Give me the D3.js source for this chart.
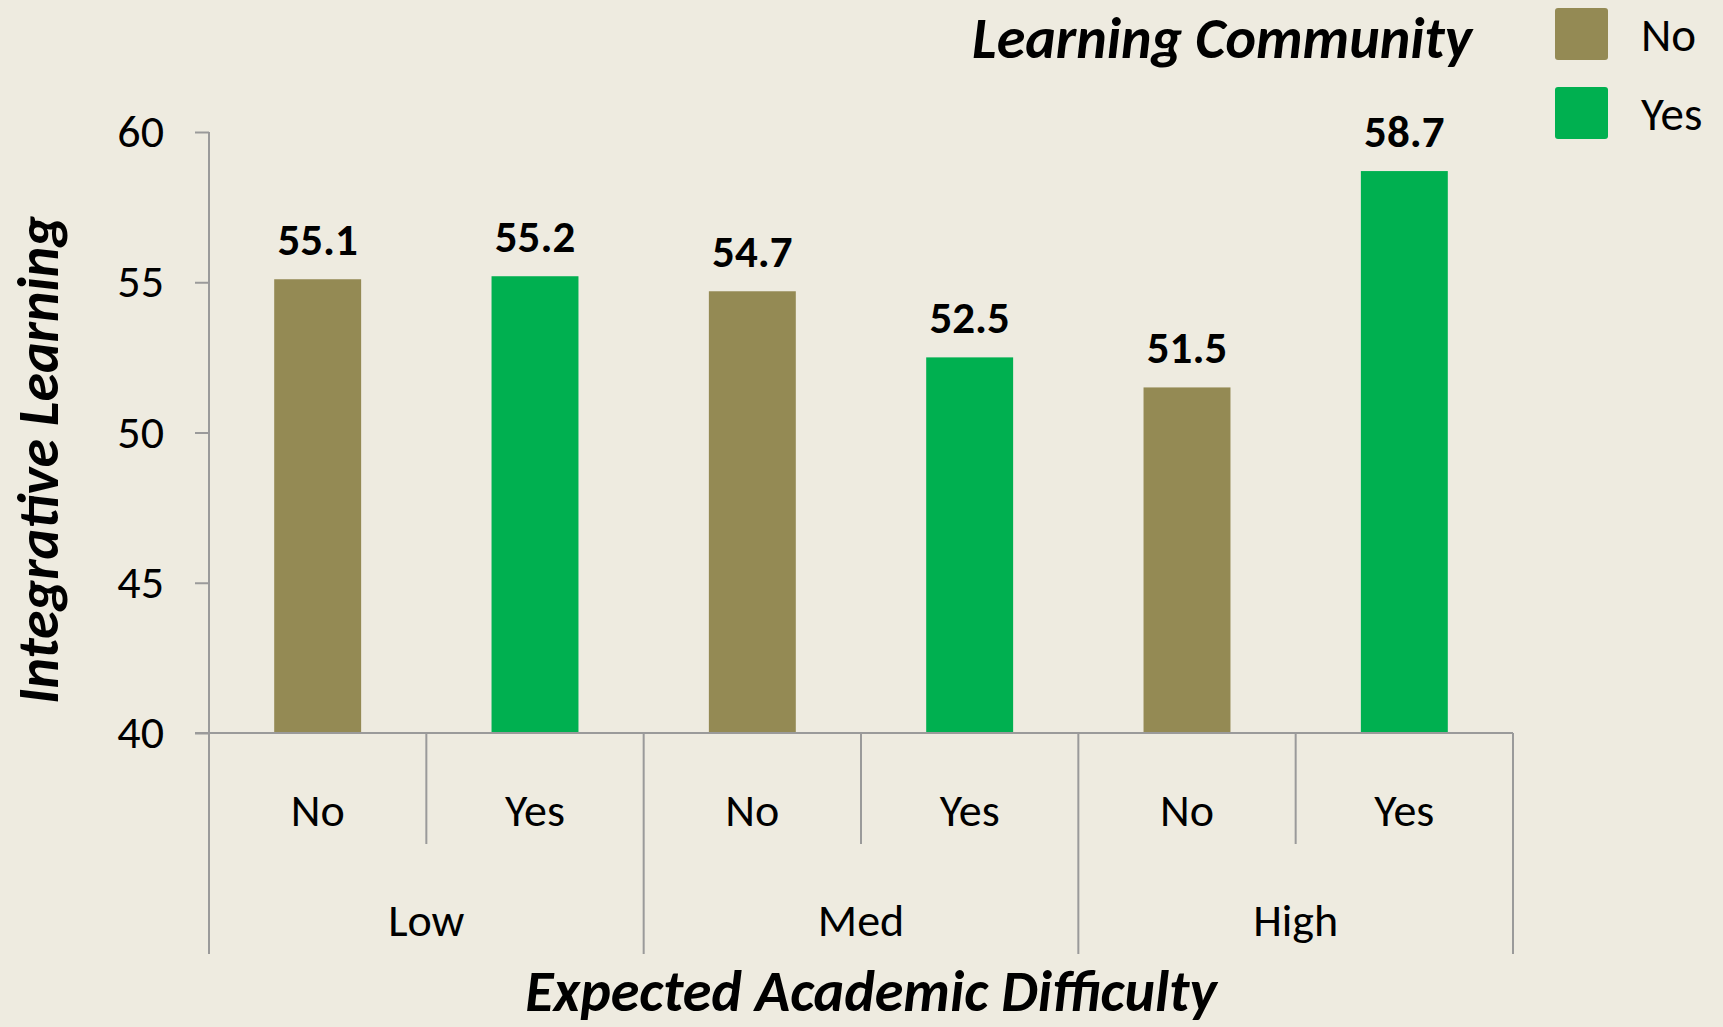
<!DOCTYPE html>
<html>
<head>
<meta charset="utf-8">
<script src="https://cdn.jsdelivr.net/npm/d3@7"></script>
<style>
  body { margin: 0; background: #EEEBE0; }
  svg { display: block; font-family: Carlito, Lato, "Open Sans", sans-serif; }
</style>
</head>
<body>
<div id="chart"></div>
<script>
// data
const groups = ["Low", "Med", "High"];
const community = ["No", "Yes"];
const noValues = [55.1, 54.7, 51.5];
const yesValues = [55.2, 52.5, 58.7];
const yTicks = [40, 45, 50, 55, 60];

const W = 1723, H = 1027;
const plotLeft = 209, plotRight = 1513, plotTop = 132, plotBottom = 733;

const colour = d3.scaleOrdinal()
    .domain(community)
    .range(["#948A54", "#00B050"]);

const svg = d3.select("#chart").append("svg")
    .attr("width", W)
    .attr("height", H);

svg.append("rect").attr("width", W).attr("height", H).attr("fill", "#EEEBE0");

// scales
const x0 = d3.scaleBand().domain(groups).range([plotLeft, plotRight]);
const x1 = d3.scaleBand().domain(community).range([0, x0.bandwidth()])
    .paddingInner(0.6).paddingOuter(0.3);
const y = d3.scaleLinear().domain([40, 60]).range([plotBottom, plotTop]);

const rows = [];
groups.forEach(function(g, i) {
    rows.push({group: g, lc: "No", value: noValues[i]});
    rows.push({group: g, lc: "Yes", value: yesValues[i]});
});

const axisColour = "#9A9A9A";

// y axis
const yAxis = svg.append("g")
    .attr("transform", "translate(" + plotLeft + ",0)")
    .call(d3.axisLeft(y).tickValues(yTicks).tickSize(14).tickPadding(31));
yAxis.attr("font-family", null).attr("font-size", null);
yAxis.select(".domain").attr("stroke", axisColour).attr("stroke-width", 2)
    .attr("d", "M0," + plotTop + "V" + plotBottom);
yAxis.selectAll(".tick line").attr("stroke", axisColour).attr("stroke-width", 2);
yAxis.selectAll(".tick text")
    .attr("fill", "#000")
    .style("font-size", "46px");

// bars
svg.selectAll(".bar")
    .data(rows)
    .enter().append("rect")
    .attr("class", "bar")
    .attr("x", function(d) { return x0(d.group) + x1(d.lc); })
    .attr("width", x1.bandwidth())
    .attr("y", function(d) { return y(d.value); })
    .attr("height", function(d) { return plotBottom - y(d.value); })
    .attr("fill", function(d) { return colour(d.lc); });

// value labels
svg.selectAll(".val")
    .data(rows)
    .enter().append("text")
    .attr("class", "val")
    .attr("x", function(d) { return x0(d.group) + x1(d.lc) + x1.bandwidth() / 2; })
    .attr("y", function(d) { return y(d.value) - 24; })
    .attr("text-anchor", "middle")
    .style("font-size", "45px")
    .style("font-weight", "bold")
    .text(function(d) { return d.value.toFixed(1); });

// x axis line
svg.append("line")
    .attr("x1", plotLeft - 14).attr("x2", plotRight)
    .attr("y1", plotBottom).attr("y2", plotBottom)
    .attr("stroke", axisColour).attr("stroke-width", 2);

// multi-level category axis
const subTickBottom = 844, groupTickBottom = 954;
const step = x0.bandwidth() / 2;

// sub dividers (inside each group)
svg.selectAll(".subdiv")
    .data(groups)
    .enter().append("line")
    .attr("x1", function(d) { return x0(d) + step; })
    .attr("x2", function(d) { return x0(d) + step; })
    .attr("y1", plotBottom).attr("y2", subTickBottom)
    .attr("stroke", axisColour).attr("stroke-width", 2);

// group dividers
const edges = groups.map(function(g) { return x0(g); }).concat([plotRight]);
svg.selectAll(".gdiv")
    .data(edges)
    .enter().append("line")
    .attr("x1", function(d) { return d; })
    .attr("x2", function(d) { return d; })
    .attr("y1", plotBottom).attr("y2", groupTickBottom)
    .attr("stroke", axisColour).attr("stroke-width", 2);

svg.selectAll(".sublab")
    .data(rows)
    .enter().append("text")
    .attr("x", function(d) { return x0(d.group) + x1(d.lc) + x1.bandwidth() / 2; })
    .attr("y", 826)
    .attr("text-anchor", "middle")
    .style("font-size", "46px")
    .text(function(d) { return d.lc; });

svg.selectAll(".glab")
    .data(groups)
    .enter().append("text")
    .attr("x", function(d) { return x0(d) + x0.bandwidth() / 2; })
    .attr("y", 936)
    .attr("text-anchor", "middle")
    .style("font-size", "46px")
    .text(function(d) { return d; });

// axis titles
svg.append("text")
    .attr("x", 871).attr("y", 1011)
    .attr("text-anchor", "middle")
    .style("font-size", "58px")
    .style("font-weight", "bold")
    .style("font-style", "italic")
    .text("Expected Academic Difficulty");

svg.append("text")
    .attr("transform", "translate(58,460) rotate(-90)")
    .attr("text-anchor", "middle")
    .style("font-size", "58px")
    .style("font-weight", "bold")
    .style("font-style", "italic")
    .text("Integrative Learning");

// legend
svg.append("text")
    .attr("x", 1472).attr("y", 58)
    .attr("text-anchor", "end")
    .style("font-size", "58px")
    .style("font-weight", "bold")
    .style("font-style", "italic")
    .text("Learning Community");

const legend = svg.selectAll(".legend")
    .data(community)
    .enter().append("g")
    .attr("class", "legend")
    .attr("transform", function(d, i) { return "translate(1555," + (8 + i * 79) + ")"; });

legend.append("rect")
    .attr("width", 53)
    .attr("height", 52)
    .attr("rx", 3)
    .attr("fill", colour);

legend.append("text")
    .attr("x", 86)
    .attr("y", 43)
    .style("font-size", "47px")
    .text(function(d) { return d; });
</script>
</body>
</html>
